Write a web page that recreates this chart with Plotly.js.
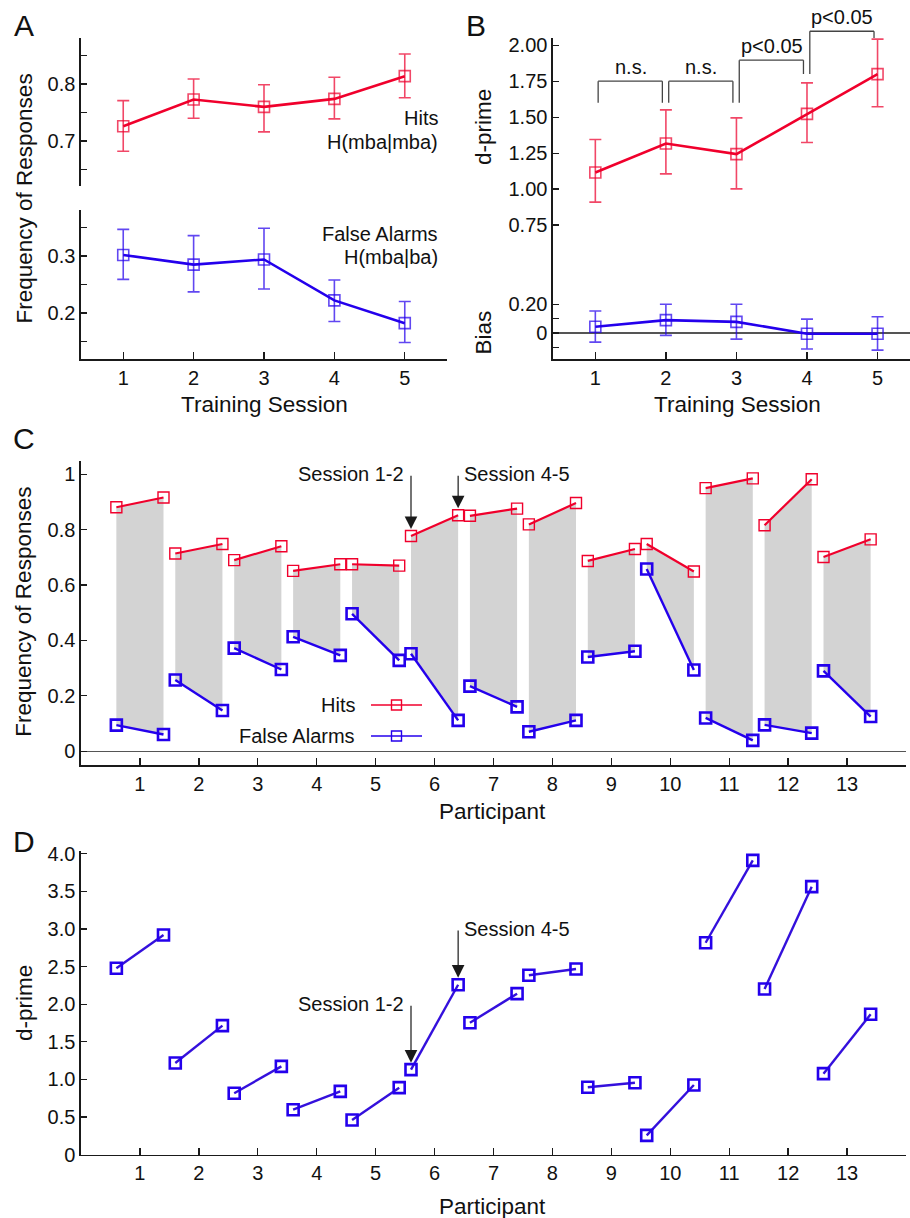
<!DOCTYPE html>
<html>
<head>
<meta charset="utf-8">
<script src="https://cdn.plot.ly/plotly-3.0.1.min.js"></script>
<style>html,body{margin:0;padding:0;background:#fff;}#chart{width:910px;height:1218px;}</style>
</head>
<body>
<div id="chart"></div>
<script>
// ---------- Data ----------
const sessions = [1, 2, 3, 4, 5];
const hitsMean  = [0.726, 0.773, 0.760, 0.774, 0.814];
const hitsUpper = [0.771, 0.809, 0.799, 0.812, 0.853];
const hitsLower = [0.682, 0.740, 0.716, 0.739, 0.776];
const faMean  = [0.302, 0.285, 0.294, 0.222, 0.182];
const faUpper = [0.347, 0.336, 0.349, 0.258, 0.220];
const faLower = [0.259, 0.237, 0.242, 0.185, 0.148];

const dprimeMean  = [1.116, 1.317, 1.243, 1.523, 1.799];
const dprimeUpper = [1.345, 1.551, 1.495, 1.738, 2.042];
const dprimeLower = [0.910, 1.106, 1.002, 1.324, 1.572];
const biasMean  = [0.044, 0.090, 0.078, -0.005, -0.005];
const biasUpper = [0.153, 0.200, 0.200, 0.097, 0.113];
const biasLower = [-0.063, -0.016, -0.042, -0.111, -0.118];

// comparison brackets (panel B)
const bracketFrom   = [1, 2, 3, 4];
const bracketLabels = ['n.s.', 'n.s.', 'p<0.05', 'p<0.05'];
const bracketTop    = [1.75, 1.75, 1.896, 2.097];
const bracketLeftBottom  = [1.60, 1.60, 1.60, 1.80];
const bracketRightBottom = [1.60, 1.60, 1.80, 2.05];

const participants = [1, 2, 3, 4, 5, 6, 7, 8, 9, 10, 11, 12, 13];
const hitsS12 = [0.881, 0.714, 0.690, 0.651, 0.675, 0.777, 0.850, 0.819, 0.687, 0.748, 0.950, 0.816, 0.701];
const hitsS45 = [0.916, 0.748, 0.740, 0.675, 0.670, 0.852, 0.876, 0.896, 0.730, 0.649, 0.985, 0.982, 0.765];
const faS12   = [0.094, 0.257, 0.372, 0.413, 0.496, 0.352, 0.235, 0.070, 0.340, 0.658, 0.120, 0.095, 0.290];
const faS45   = [0.060, 0.147, 0.295, 0.346, 0.328, 0.111, 0.160, 0.111, 0.361, 0.293, 0.039, 0.065, 0.125];
const dS12    = [2.477, 1.219, 0.816, 0.598, 0.461, 1.130, 1.754, 2.384, 0.896, 0.257, 2.817, 2.202, 1.077];
const dS45    = [2.920, 1.715, 1.174, 0.842, 0.891, 2.259, 2.140, 2.468, 0.957, 0.926, 3.912, 3.562, 1.866];
const markedParticipant = 6;

// ---------- Styling ----------
const W = 910, H = 1218;
const PX = v => v / W;
const PY = v => 1 - v / H;
const FONT = 'Liberation Sans, Arial, Helvetica, sans-serif';
const RED = '#f0002c', RED_T = 'rgba(236,0,44,0.72)';
const BLUE = '#2400ec', BLUE_T = 'rgba(36,0,236,0.72)';
const DLINE = '#3410dc';
const GRAY_FILL = '#d3d3d3';
const OFFSET = 0.4;

function plusArr(m, u) { return m.map((v, i) => u[i] - v); }
function minusArr(m, l) { return m.map((v, i) => v - l[i]); }

const traces = [];

// Panel A
traces.push({
  x: sessions, y: hitsMean, xaxis: 'x', yaxis: 'y', mode: 'lines+markers', type: 'scatter',
  line: {color: RED, width: 2.6},
  marker: {symbol: 'square-open', size: 11, color: RED_T, line: {width: 1.6, color: RED_T}},
  error_y: {type: 'data', symmetric: false, array: plusArr(hitsMean, hitsUpper), arrayminus: minusArr(hitsMean, hitsLower), color: RED_T, thickness: 1.6, width: 6},
  cliponaxis: false
});
traces.push({
  x: sessions, y: faMean, xaxis: 'x', yaxis: 'y2', mode: 'lines+markers', type: 'scatter',
  line: {color: BLUE, width: 2.6},
  marker: {symbol: 'square-open', size: 11, color: BLUE_T, line: {width: 1.6, color: BLUE_T}},
  error_y: {type: 'data', symmetric: false, array: plusArr(faMean, faUpper), arrayminus: minusArr(faMean, faLower), color: BLUE_T, thickness: 1.6, width: 6},
  cliponaxis: false
});
// Panel B
traces.push({
  x: sessions, y: dprimeMean, xaxis: 'x2', yaxis: 'y3', mode: 'lines+markers', type: 'scatter',
  line: {color: RED, width: 2.6},
  marker: {symbol: 'square-open', size: 11, color: RED_T, line: {width: 1.6, color: RED_T}},
  error_y: {type: 'data', symmetric: false, array: plusArr(dprimeMean, dprimeUpper), arrayminus: minusArr(dprimeMean, dprimeLower), color: RED_T, thickness: 1.6, width: 6},
  cliponaxis: false
});
traces.push({
  x: sessions, y: biasMean, xaxis: 'x2', yaxis: 'y3', mode: 'lines+markers', type: 'scatter',
  line: {color: BLUE, width: 2.6},
  marker: {symbol: 'square-open', size: 11, color: BLUE_T, line: {width: 1.6, color: BLUE_T}},
  error_y: {type: 'data', symmetric: false, array: plusArr(biasMean, biasUpper), arrayminus: minusArr(biasMean, biasLower), color: BLUE_T, thickness: 1.6, width: 6},
  cliponaxis: false
});

// Panel C
const fx = [], fy = [], hx = [], hy = [], ax_ = [], ay_ = [], dx = [], dy = [];
participants.forEach((p, i) => {
  fx.push(p - OFFSET, p + OFFSET, p + OFFSET, p - OFFSET, null);
  fy.push(hitsS12[i], hitsS45[i], faS45[i], faS12[i], null);
  hx.push(p - OFFSET, p + OFFSET, null);
  hy.push(hitsS12[i], hitsS45[i], null);
  ax_.push(p - OFFSET, p + OFFSET, null);
  ay_.push(faS12[i], faS45[i], null);
  dx.push(p - OFFSET, p + OFFSET, null);
  dy.push(dS12[i], dS45[i], null);
});
traces.push({x: fx, y: fy, xaxis: 'x3', yaxis: 'y4', type: 'scatter', mode: 'lines', fill: 'toself',
  fillcolor: GRAY_FILL, line: {width: 0, color: GRAY_FILL}, connectgaps: false, hoverinfo: 'skip'});
traces.push({x: hx, y: hy, xaxis: 'x3', yaxis: 'y4', type: 'scatter', mode: 'lines+markers', connectgaps: false,
  line: {color: RED, width: 2.2},
  marker: {symbol: 'square-open', size: 11, color: RED, line: {width: 1.4, color: RED}}, cliponaxis: false});
traces.push({x: ax_, y: ay_, xaxis: 'x3', yaxis: 'y4', type: 'scatter', mode: 'lines+markers', connectgaps: false,
  line: {color: BLUE, width: 2.4},
  marker: {symbol: 'square-open', size: 11, color: BLUE, line: {width: 2.6, color: BLUE}}, cliponaxis: false});
// Panel D
traces.push({x: dx, y: dy, xaxis: 'x4', yaxis: 'y5', type: 'scatter', mode: 'lines+markers', connectgaps: false,
  line: {color: DLINE, width: 2.4},
  marker: {symbol: 'square-open', size: 11, color: BLUE, line: {width: 2.6, color: BLUE}}, cliponaxis: false});

// ---------- Axes ----------
const base = {
  showgrid: false, zeroline: false, showline: true, linecolor: '#1a1a1a', linewidth: 1.6,
  ticks: 'inside', tickcolor: '#1a1a1a', tickwidth: 1.3, ticklen: 6,
  tickfont: {family: FONT, size: 20, color: '#111'}, fixedrange: true
};
function ax(o) { return Object.assign({}, base, o); }

const rangeY3 = [-0.18, 2.05];
const domY3 = [PY(359), PY(38)];
function paperY3(v) { return domY3[0] + (v - rangeY3[0]) / (rangeY3[1] - rangeY3[0]) * (domY3[1] - domY3[0]); }

const layout = {
  width: W, height: H, margin: {l: 0, r: 0, t: 0, b: 0},
  paper_bgcolor: '#fff', plot_bgcolor: 'rgba(0,0,0,0)', showlegend: false,
  font: {family: FONT, size: 20, color: '#111'},
  xaxis: ax({domain: [PX(81), PX(447)], anchor: 'y2', range: [0.4, 5.6], tickvals: sessions, ticktext: sessions.map(String), ticklen: 7}),
  yaxis: ax({domain: [PY(186), PY(38)], anchor: 'x', range: [0.621, 0.881], tickvals: [0.65, 0.7, 0.75, 0.8, 0.85], ticktext: ['', '0.7', '', '0.8', '']}),
  yaxis2: ax({domain: [PY(359), PY(210)], anchor: 'x', range: [0.119, 0.381], tickvals: [0.15, 0.2, 0.25, 0.3, 0.35], ticktext: ['', '0.2', '', '0.3', '']}),
  xaxis2: ax({domain: [PX(553), 1], anchor: 'y3', range: [0.4, 5.46], tickvals: sessions, ticktext: sessions.map(String), ticklen: 7}),
  yaxis3: ax({domain: domY3, anchor: 'x2', range: rangeY3, zeroline: true, zerolinecolor: '#555', zerolinewidth: 1.3,
    tickvals: [-0.1, 0, 0.1, 0.2, 0.75, 1.0, 1.25, 1.5, 1.75, 2.0], ticktext: ['', '0', '', '0.20', '0.75', '1.00', '1.25', '1.50', '1.75', '2.00']}),
  xaxis3: ax({domain: [PX(81), PX(906)], anchor: 'y4', range: [0, 14], tickvals: participants, ticktext: participants.map(String), ticklen: 7, linewidth: 2}),
  yaxis4: ax({domain: [PY(765), PY(460.7)], anchor: 'x3', range: [-0.05, 1.049], zeroline: true, zerolinecolor: '#555', zerolinewidth: 1.3,
    tickvals: [0, 0.2, 0.4, 0.6, 0.8, 1.0], ticktext: ['0', '0.2', '0.4', '0.6', '0.8', '1']}),
  xaxis4: ax({domain: [PX(81), PX(906)], anchor: 'y5', range: [0, 14], tickvals: participants, ticktext: participants.map(String), ticklen: 7}),
  yaxis5: ax({domain: [PY(1154.7), PY(850.7)], anchor: 'x4', range: [0, 4.04],
    tickvals: [0, 0.5, 1, 1.5, 2, 2.5, 3, 3.5, 4], ticktext: ['0', '0.5', '1.0', '1.5', '2.0', '2.5', '3.0', '3.5', '4.0']}),
  shapes: [], annotations: []
};

const A = layout.annotations, S = layout.shapes;
function txt(text, x, y, o) {
  A.push(Object.assign({text: text, x: PX(x), y: PY(y), xref: 'paper', yref: 'paper', showarrow: false,
    xanchor: 'center', yanchor: 'middle', font: {family: FONT, size: 20, color: '#111'}}, o || {}));
}
// panel letters
txt('A', 23.5, 26, {font: {family: FONT, size: 30, color: '#111'}});
txt('B', 476, 26, {font: {family: FONT, size: 30, color: '#111'}});
txt('C', 23.5, 438, {font: {family: FONT, size: 30, color: '#111'}});
txt('D', 23.5, 841, {font: {family: FONT, size: 30, color: '#111'}});
// axis titles
const TF = {family: FONT, size: 22.5, color: '#111'};
txt('Frequency of Responses', 24, 198.5, {textangle: -90, font: TF});
txt('Training Session', 264, 404, {font: TF});
txt('d-prime', 483, 127, {textangle: -90, font: TF});
txt('Bias', 483, 332.5, {textangle: -90, font: TF});
txt('Training Session', 737, 404, {font: TF});
txt('Frequency of Responses', 24, 611.7, {textangle: -90, font: TF});
txt('Participant', 493, 811, {font: TF});
txt('d-prime', 24, 1003, {textangle: -90, font: TF});
txt('Participant', 493, 1206, {font: TF});
// panel A series labels
txt('Hits', 440, 118.5, {xanchor: 'right'});
txt('H(mba|mba)', 440, 142, {xanchor: 'right'});
txt('False Alarms', 440, 234.5, {xanchor: 'right'});
txt('H(mba|ba)', 440, 257, {xanchor: 'right'});

// Panel B brackets
const BR = '#444';
bracketFrom.forEach((s, i) => {
  const xL = s + 0.04, xR = s + 1 - 0.05;
  const yT = paperY3(bracketTop[i]);
  S.push({type: 'line', xref: 'x2', yref: 'paper', x0: xL, x1: xL, y0: paperY3(bracketLeftBottom[i]), y1: yT, line: {color: BR, width: 1.3}});
  S.push({type: 'line', xref: 'x2', yref: 'paper', x0: xL, x1: xR, y0: yT, y1: yT, line: {color: BR, width: 1.3}});
  S.push({type: 'line', xref: 'x2', yref: 'paper', x0: xR, x1: xR, y0: yT, y1: paperY3(bracketRightBottom[i]), line: {color: BR, width: 1.3}});
  A.push({text: bracketLabels[i], x: s + 0.5, xref: 'x2', y: yT, yref: 'paper', yanchor: 'bottom', xanchor: 'center',
    showarrow: false, yshift: 1, font: {family: FONT, size: 20, color: '#111'}});
});

// Arrows in C and D
const k = participants.indexOf(markedParticipant);
function arrow(xr, yr, x, y, tailY, label, side) {
  A.push({text: '', x: x, y: y, xref: xr, yref: yr, ax: x, ay: tailY, axref: xr, ayref: yr, showarrow: true,
    arrowhead: 2, arrowsize: 2.1, arrowwidth: 1.2, arrowcolor: '#1a1a1a', standoff: 7});
  A.push({text: label, x: x, y: tailY, xref: xr, yref: yr, showarrow: false,
    xanchor: side === 'left' ? 'right' : 'left', xshift: side === 'left' ? -5 : 4, yanchor: 'middle',
    font: {family: FONT, size: 20, color: '#111'}});
}
arrow('x3', 'y4', participants[k] - OFFSET, hitsS12[k], 1.0, 'Session 1-2', 'left');
arrow('x3', 'y4', participants[k] + OFFSET, hitsS45[k], 1.0, 'Session 4-5', 'right');
arrow('x4', 'y5', participants[k] - OFFSET, dS12[k], 2.0, 'Session 1-2', 'left');
arrow('x4', 'y5', participants[k] + OFFSET, dS45[k], 3.0, 'Session 4-5', 'right');

// Legend in C (text on the left, sample on the right)
[['Hits', RED, 1.4, 705], ['False Alarms', BLUE, 1.4, 736]].forEach(([name, col, w, y]) => {
  txt(name, 357, y, {xanchor: 'right'});
  S.push({type: 'line', xref: 'paper', yref: 'paper', x0: PX(371), x1: PX(422), y0: PY(y), y1: PY(y), line: {color: col, width: 1.5}});
  S.push({type: 'rect', xref: 'paper', yref: 'paper', x0: PX(391.5), x1: PX(401.5), y0: PY(y - 5), y1: PY(y + 5), line: {color: col, width: 1.4}, fillcolor: 'rgba(0,0,0,0)'});
});

Plotly.newPlot('chart', traces, layout, {staticPlot: true, displayModeBar: false});
</script>
</body>
</html>
